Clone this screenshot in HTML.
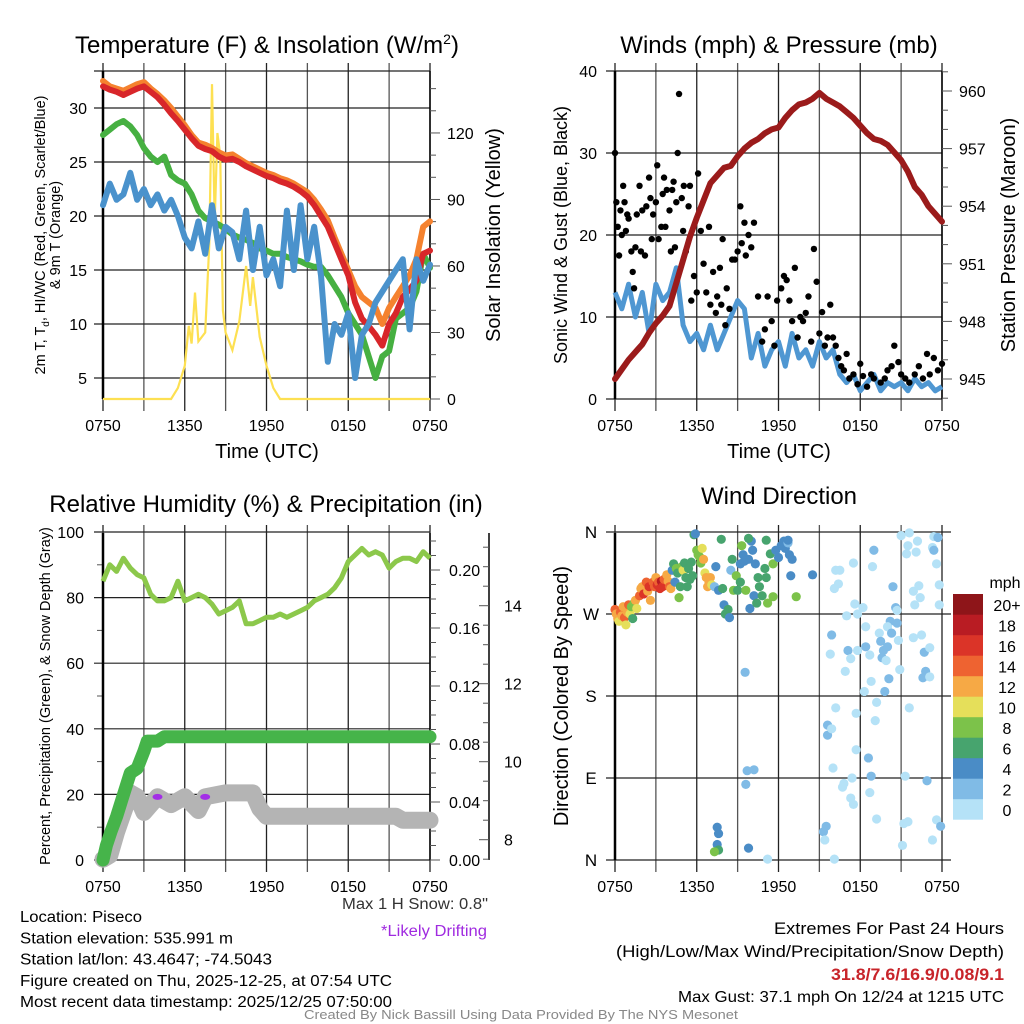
<!DOCTYPE html>
<html><head><meta charset="utf-8"><style>
html,body{margin:0;padding:0;background:#fff}
svg{display:block;font-family:"Liberation Sans",sans-serif}
</style></head><body>
<svg id="fig" width="1024" height="1024" viewBox="0 0 1024 1024" xmlns="http://www.w3.org/2000/svg">
<rect width="1024" height="1024" fill="#fff"/>
<g id="layer"></g>
</svg>
<script>
// ---------- DATA ----------
const timeLabels = ["0750","1350","1950","0150","0750"];
const halfHours = Array.from({length:49},(_,i)=>i*0.5);
const tempRed = [32,31.7,31.5,31.2,31.5,31.8,32,31.5,31,30.3,29.5,28.8,28,27.2,26.5,26.2,26,25.5,25.2,25.3,25,24.6,24.3,24,23.7,23.5,23.2,23,22.7,22.3,21.8,21,20,19,17.5,16,14.5,12,10.5,9.8,9,8,10,11,12.5,13.2,14,16.5,16.8];
const tempOrange = [32.5,32,31.8,31.6,31.9,32.2,32.4,31.8,31.3,30.7,30,29.2,28.4,27.5,26.8,26.6,26.3,25.9,25.6,25.7,25.3,24.9,24.6,24.3,24,23.8,23.5,23.3,23,22.6,22.2,21.5,20.6,19.6,18,16.5,15,13.5,12.5,12,11.5,10,11.5,12.5,13.5,14.5,16,19,19.5];
const dewGreen = [27.5,28,28.5,28.8,28.3,27.5,26.3,25.5,25,25.5,23.8,23.3,23,22,20.5,19.8,19.5,19.2,18.8,18.3,18,17.8,17.5,17,16.8,16.5,16.5,16.2,16,15.8,15.5,15.3,15.3,14.5,13.5,12.5,11,10,9,7,5,7,7.5,10.5,11,11.5,13,16.5,15.2];
const chillBlue = [21,23,21.5,22,24,21.5,22.5,21,22,20.5,21.5,20,18,17,19.5,16.5,21,17,19,18.5,16,20.5,15,19,14.5,16,13.5,20.5,15,21,16,19,14.5,6.5,10,9,11,5,9,10,12,13,14,15,16,9.5,16,14,15.5];
const solarHours = [0,5,5.5,6,6.3,6.5,6.75,7,7.5,7.8,8,8.2,8.4,8.6,8.8,9,9.5,10,10.5,10.8,11,11.5,12,12.5,13,24];
const solarValues = [0,0,5,15,33,25,48,26,30,70,142,80,120,110,40,30,22,35,60,42,55,28,15,5,0,0];
const pressure = [945,945.5,946,946.4,946.8,947.4,947.9,948.3,948.8,950,951.2,952.4,953.4,954.3,955.2,955.6,956,956.1,956.6,957,957.3,957.5,957.8,958,958.1,958.6,959,959.3,959.4,959.6,959.9,959.6,959.4,959.2,958.9,958.6,958.2,957.8,957.5,957.4,957.2,956.8,956.4,955.8,955,954.6,954,953.6,953.2];
const windSpeed = [13,11,14,10,13,8,14,12,13,16,9,7,8,6,9,6,8,10,12,11,5,8,4,6,7,4,8,5,6,4,7,5,6,3,2,3,1,2,3,1,2,1.5,2,1,2.5,1.5,2,1,1.5];
const gustHours = [0,0.1,0.2,0.3,0.4,0.5,0.6,0.7,0.8,0.9,1,1.2,1.3,1.4,1.5,1.6,1.8,1.9,2,2.2,2.3,2.5,2.6,2.7,2.8,3,3.1,3.2,3.4,3.5,3.6,3.7,3.8,4,4.1,4.2,4.3,4.4,4.5,4.6,4.7,4.9,5,5.05,5.2,5.4,5.5,5.6,5.8,6,6.1,6.3,6.5,6.7,6.9,7,7.2,7.4,7.5,7.7,7.8,7.9,8.1,8.2,8.4,8.6,8.8,9,9.2,9.3,9.5,9.6,9.8,10,10.2,10.5,10.8,11,11.2,11.5,11.7,11.9,12.2,12.4,12.6,12.8,13,13.2,13.4,13.6,13.8,14,14.2,14.4,14.6,14.8,15,15.2,15.4,15.6,15.8,16,16.2,16.4,16.6,16.8,17,17.2,17.5,17.8,18,18.2,18.5,18.8,19,19.5,19.8,20,20.3,20.5,20.8,21,21.3,21.6,22,22.3,22.6,22.9,23.1,23.4,23.7,24];
const gustValues = [30,24,21,17.5,23,20,26,24,20.5,22.5,22,18,15.5,13.5,18.5,22.5,26,18,23,17.5,23.5,27,24.5,19.5,22.5,24,28.5,19.5,21,25,27,21,25.5,23,18,25.5,26.5,18.5,24,30,37.2,24.5,20.5,26,18,23.5,26,12,15,13,27.5,20.5,16.5,13,21,11.5,15.5,10.5,12.5,16,11.5,19.5,9,13.5,11,17,17,18,23.5,19,21.5,17.5,20,18.5,21.5,12.5,7,8.5,12.5,9.5,6.5,12,13.5,15,14.5,12,9.5,16,7.5,10,9.5,10.5,12.5,7,18.3,14.3,8,10.6,6.5,7.5,11.5,7.5,6.5,5,4,3.5,5.5,2.5,3,1.8,4.3,2.8,1.5,3,2.5,2,2.5,3.5,4,6.5,4.5,3,2.5,2,3,4,2.5,5.5,3,5,3.5,4.3];
const rhValues = [85,90,88,92,89,87,86,81,79,79,80,85,79,80,81,80,78,75,76,77,79,72,72,73,74,74,75,74,75,76,77,79,80,81,83,86,91,93,95,93,94,93,89,91,92,92,91,94,92];
const precipHours = [0,0.25,0.6,1,1.5,2,2.5,3,3.25,4,4.5,24];
const precipValues = [0,0.01,0.02,0.03,0.045,0.06,0.063,0.075,0.082,0.082,0.085,0.085];
const snowHours = [0,0.5,1,1.5,2,2.5,3,4,5,6,7,7.5,9,11,11.5,12,21.5,22,24];
const snowValues = [7.5,7.6,8.2,8.7,9.2,9.1,8.7,9.1,8.9,9.1,8.75,9.1,9.2,9.2,8.8,8.6,8.6,8.5,8.5];
const driftHours = [4.0,7.5];
const driftValues = [9.15,9.15];
const dirHours = [
 0,0.1,0.2,0.3,0.4,0.5,0.6,0.7,0.8,0.9,
 1,1.1,1.2,1.3,1.4,1.5,1.6,1.8,1.9,2,
 2.1,2.3,2.4,2.5,2.6,2.8,2.9,3,3.1,3.2,
 3.3,3.4,3.5,3.6,3.8,3.9,4,4.1,4.2,4.3,
 4.4,4.5,4.6,4.7,4.8,4.9,5,5.1,5.2,5.3,
 5.4,5.5,5.6,5.7,5.8,5.9,6,6.1,6.2,6.3,
 6.4,6.5,6.6,6.7,6.8,6.9,7,7.1,7.3,7.4,
 7.6,7.8,7.9,8,8.1,8.3,8.4,8.5,8.6,8.7,
 8.9,9,9.2,9.2,9.3,9.4,9.5,9.6,9.8,10,
 10.1,10.2,10.3,10.5,10.6,10.8,11,11.1,11.2,11.4,
 11.6,11.8,12,12.2,12.4,12.5,12.7,12.8,12.9,13,
 16.2,16.5,16.1,16.4,17.5,17.6,19,18.9,15.9,15.8,
 17,17.1,17.3,16.9,17.8,18.2,18.4,17.8,18.4,18.7,
 18.8,18.3,16.2,15.6,15.6,15.9,17.7,19.2,19.1,19.4,
 19.5,19.7,19.6,19.9,20.1,19.8,20.4,20.6,20.7,20.2,
 20.7,20,20.3,20.8,20,20.9,21,21.5,22.2,21.4,
 22.1,21.9,22.3,22.4,22,21.6,22.5,21.9,22.7,23.1,
 22.8,22.6,23.1,23.4,23.7,23.3,23.4,23.6,23.8,23.8,
 21.6,21.3,22.9,21.2,21.5,21.1,23.6,23.9,23.3,18.6,
 18.8,17.7,16,17.4,16.8,16.7,17.3,17.5,18.7,19.2,
 15.5,15.3,15.4,16.1,9.55,9.7,10.2,9.6,7.5,7.6,
 7.5,7.6,7.3,9.8,11.2,14.5,9.8,11.1,11.6,13.3,
 12.7,9.9,10.4];
const dirDegs = [
 275,270,265,262,272,268,278,266,258,272,
 280,270,278,265,282,285,276,290,298,300,
 292,305,295,300,285,305,300,310,302,305,
 298,306,300,308,313,306,300,298,318,325,
 305,320,315,288,300,322,318,326,310,300,
 320,308,327,312,357,358,340,335,333,326,
 342,330,315,310,300,305,310,302,300,322,
 296,352,298,280,270,275,266,318,330,296,
 312,296,305,325,345,335,328,296,330,350,
 340,290,325,310,300,290,320,310,282,336,
 325,340,332,345,350,342,348,335,312,330,
 318,318,298,303,326,281,340,322,247,226,
 268,230,221,207,270,277,256,230,234,225,
 196,185,167,148,137,144,161,173,153,249,
 240,230,222,219,199,185,300,277,274,262,
 260,256,249,241,234,209,356,345,350,336,
 338,295,301,288,280,359,247,244,228,233,
 207,200,201,355,354,343,340,325,302,280,
 167,92,87,40,42,16,44,37,22,112,
 92,121,101,90,84,80,68,61,74,45,
 37,31,22,1,206,98,99,83,36,29,
 17,11,9,13,1,313,353,351,289,289,
 351,276,282];
const dirSpeeds = [
 15,13,12,11,14,12,13,15,10,12,
 14,11,8,6,9,13,10,15,12,13,
 16,14,12,16,12,15,14,13,17,14,
 16,18,17,15,13,12,15,13,4,6,
 5,8,6,8,7,8,10,6,6,6,
 6,6,6,6,6,4,8,8,9,8,
 10,12,10,12,12,13,12,10,3,4,
 4,6,6,4,6,6,4,2,6,8,
 8,6,6,4,8,4,4,8,4,4,
 4,4,4,6,6,6,6,6,8,6,
 8,4,4,4,4,4,2,4,4,5,
 1,1,1,1,1,1,3,1,3,1,
 1,3,1,1,1,1,1,1,3,1,
 1,1,1,3,3,1,1,1,1,1,
 3,3,3,1,3,3,3,3,1,3,
 3,1,3,1,3,1,1,1,1,1,
 1,1,1,1,1,1,1,1,3,1,
 3,3,1,1,3,1,3,1,1,1,
 1,1,2,1,1,1,1,3,1,3,
 3,1,1,1,1,1,1,1,1,1,
 3,3,1,1,2,2,2,3,4,4,
 4,6,8,4,1,4,7,7,8,8,
 5,5,7];
const speedBinColors = ["#b5e2f7","#80bbe6","#4a8cc6","#47a46e","#7cc24a","#e5df5a","#f6a945","#ee6331","#db3428","#b91c23","#8e1519"];
const speedBinLabels = ["0","2","4","6","8","10","12","14","16","18","20+"];

// ---------- HELPERS ----------
const NS="http://www.w3.org/2000/svg";
const L=document.getElementById('layer');
function mk(tag,attrs,parent){const e=document.createElementNS(NS,tag);for(const k in attrs)e.setAttribute(k,attrs[k]);(parent||L).appendChild(e);return e;}
function txt(s,x,y,size,anchor,extra){const e=mk('text',Object.assign({x:x,y:y,'font-size':size,'text-anchor':anchor||'middle',fill:'#000'},extra||{}));e.textContent=s;return e;}
function pathFrom(xs,ys,fx,fy){let d='';const n=Math.min(xs.length,ys.length);for(let i=0;i<n;i++){d+=(i?'L':'M')+fx(xs[i]).toFixed(1)+','+fy(ys[i]).toFixed(1);}return d;}

function frame(x0,x1,y0,y1,name){
  const g=mk('g',{});
  
  
  for(let i=0;i<=8;i++){
    const x=x0+(x1-x0)*i/8;
    mk('line',{x1:x,y1:y0-8,x2:x,y2:y1+12,stroke:(i%2?'#555':'#222'),'stroke-width':1.3},g);
  }
  return g;
}
function hgrid(x0,x1,y,g){mk('line',{x1:x0-9,y1:y,x2:x1,y2:y,stroke:'#222','stroke-width':1.2},g);}
function xLabels(x0,x1,y,name){
  for(let i=0;i<timeLabels.length;i++){
    const t=txt(timeLabels[i],x0+(x1-x0)*i/4,y,16);
    
    
  }
}

// ---------- PANEL 1: Temperature ----------
(function(){
  const x0=103,x1=430;
  const fx=h=>x0+h*(x1-x0)/24;
  const fy=t=>378-(t-5)*10.8;
  const fs=s=>399-s*2.217;
  const g=frame(x0,x1,71,399,'temperature');
  [5,10,15,20,25,30].forEach(v=>hgrid(x0,x1,fy(v),g));
  mk('line',{x1:x0-9,y1:71,x2:x1,y2:71,stroke:'#222','stroke-width':1.2},g);
  mk('line',{x1:x0,y1:71,x2:x0,y2:399,stroke:'#000','stroke-width':2.5},g);
  mk('line',{x1:x1,y1:71,x2:x1,y2:399,stroke:'#000','stroke-width':1.5},g);
  for(let s=0;s<=150;s+=10){const y=fs(s);if(y<71)break;mk('line',{x1:x1,y1:y,x2:x1+(s%30===0?10:6),y2:y,stroke:'#555','stroke-width':1},g);}
  for(const v of [5,10,15,20,25,30]){const t=txt(String(v),87,fy(v)+6,16,'end');}
  for(const v of [0,30,60,90,120]){const t=txt(String(v),447,fs(v)+6,16,'start');}
  const sol=mk('path',{d:pathFrom(solarHours,solarValues,fx,fs),fill:'none',stroke:'#fde052','stroke-width':2.2});
  
  
  const o=mk('path',{d:pathFrom(halfHours,tempOrange,fx,fy),fill:'none',stroke:'#f5822f','stroke-width':6,'stroke-linejoin':'round','stroke-linecap':'round'});
  
  
  const gr=mk('path',{d:pathFrom(halfHours,dewGreen,fx,fy),fill:'none',stroke:'#46b041','stroke-width':6,'stroke-linejoin':'round','stroke-linecap':'round'});
  
  
  const r=mk('path',{d:pathFrom(halfHours,tempRed,fx,fy),fill:'none',stroke:'#d8262a','stroke-width':6,'stroke-linejoin':'round','stroke-linecap':'round'});
  
  
  const b=mk('path',{d:pathFrom(halfHours,chillBlue,fx,fy),fill:'none',stroke:'#4a92cc','stroke-width':6,'stroke-linejoin':'round','stroke-linecap':'round'});
  
  
  xLabels(x0,x1,431,'temperature');
  const tt=mk('text',{x:267,y:53,'font-size':24,'text-anchor':'middle'});
  tt.innerHTML='Temperature (F) &amp; Insolation (W/m<tspan dy="-9" font-size="14">2</tspan><tspan dy="9">)</tspan>';
  
  
  const xl=txt('Time (UTC)',267,458,20);
  
  
  const yl=mk('text',{transform:'translate(45,235) rotate(-90)','font-size':14.5,'text-anchor':'middle'});
  yl.innerHTML='2m T, T<tspan font-size="10" dy="4">d</tspan><tspan dy="-4">, HI/WC (Red, Green, Scarlet/Blue)</tspan>';
  
  
  const yl2=txt('& 9m T (Orange)',0,0,14.5,'middle',{transform:'translate(60,235) rotate(-90)'});
  
  
  const yr=txt('Solar Insolation (Yellow)',0,0,20,'middle',{transform:'translate(500,235) rotate(-90)'});
  
  
})();

// ---------- PANEL 2: Winds ----------
(function(){
  const x0=615,x1=942;
  const fx=h=>x0+h*(x1-x0)/24;
  const fy=v=>399-v*8.2;
  const fp=p=>379-(p-945)*19.2;
  const g=frame(x0,x1,71,399,'winds');
  [0,10,20,30,40].forEach(v=>hgrid(x0,x1,fy(v),g));
  mk('line',{x1:x0,y1:71,x2:x0,y2:399,stroke:'#000','stroke-width':2.5},g);
  mk('line',{x1:x1,y1:71,x2:x1,y2:399,stroke:'#000','stroke-width':1.5},g);
  for(let p=944;p<=961;p++){const y=fp(p);if(y<71||y>399)continue;mk('line',{x1:x1,y1:y,x2:x1+((p-945)%3===0?10:6),y2:y,stroke:'#555','stroke-width':1},g);}
  for(const v of [0,10,20,30,40]){const t=txt(String(v),597,fy(v)+6,16,'end');}
  for(const v of [945,948,951,954,957,960]){const t=txt(String(v),959,fp(v)+6,16,'start');}
  const ws=mk('path',{d:pathFrom(halfHours,windSpeed,fx,fy),fill:'none',stroke:'#4f97d2','stroke-width':5,'stroke-linejoin':'round'});
  
  
  for(let i=0;i<gustHours.length;i++){
    const c=mk('circle',{cx:fx(gustHours[i]),cy:fy(gustValues[i]),r:3.2,fill:'#000'});
    
    
  }
  const pr=mk('path',{d:pathFrom(halfHours,pressure,fx,fp),fill:'none',stroke:'#9b1b1b','stroke-width':6,'stroke-linejoin':'round','stroke-linecap':'round'});
  
  
  xLabels(x0,x1,431,'winds');
  const tt=txt('Winds (mph) & Pressure (mb)',779,53,24);
  
  
  const xl=txt('Time (UTC)',779,458,20);
  
  
  const yl=txt('Sonic Wind & Gust (Blue, Black)',0,0,18,'middle',{transform:'translate(567,235) rotate(-90)'});
  
  
  const yr=txt('Station Pressure (Maroon)',0,0,20,'middle',{transform:'translate(1015,235) rotate(-90)'});
  
  
})();

// ---------- PANEL 3: RH & Precip ----------
(function(){
  const x0=103,x1=430;
  const fx=h=>x0+h*(x1-x0)/24;
  const fy=v=>860-v*3.28;
  const fpr=p=>860-p*1450;
  const fsn=s=>839.7-(s-8)*39;
  const g=frame(x0,x1,533,860,'humidity');
  [0,20,40,60,80,100].forEach(v=>hgrid(x0,x1,fy(v),g));
  for(let v=10;v<100;v+=20)mk('line',{x1:x0-6,y1:fy(v),x2:x0,y2:fy(v),stroke:'#555'},g);
  mk('line',{x1:x0,y1:533,x2:x0,y2:860,stroke:'#000','stroke-width':2.5},g);
  mk('line',{x1:x1,y1:533,x2:x1,y2:860,stroke:'#000','stroke-width':1.5},g);
  for(let k=0;k<=22;k++){const p=k*0.01;const y=fpr(p);if(y<533)break;mk('line',{x1:x1,y1:y,x2:x1+(k%4===0?10:6),y2:y,stroke:'#555'},g);}
  mk('line',{x1:489,y1:533,x2:489,y2:860,stroke:'#000','stroke-width':1.5},g);
  for(let s=7.5;s<=15.9;s+=0.5){const y=fsn(s);if(y<533||y>860)continue;mk('line',{x1:489,y1:y,x2:489-(Math.abs(s-Math.round(s/2)*2)<0.01?10:6),y2:y,stroke:'#555'},g);}
  for(const v of [0,20,40,60,80,100]){const t=txt(String(v),84,fy(v)+6,16,'end');}
  for(const v of [0,0.04,0.08,0.12,0.16,0.20]){const t=txt(v.toFixed(2),449,fpr(v)+6,16,'start');}
  for(const v of [8,10,12,14]){const t=txt(String(v),504,fsn(v)+6,16,'start');}
  const sn=mk('path',{d:pathFrom(snowHours,snowValues,fx,fsn),fill:'none',stroke:'#b4b4b4','stroke-width':17,'stroke-linejoin':'round','stroke-linecap':'round'});
  
  
  for(let i=0;i<driftHours.length;i++){
    const c=mk('ellipse',{cx:fx(driftHours[i]),cy:fsn(driftValues[i])+2,rx:5,ry:3,fill:'#a32ee6'});
    
    
  }
  const pc=mk('path',{d:pathFrom(precipHours,precipValues,fx,fpr),fill:'none',stroke:'#46b44a','stroke-width':13,'stroke-linejoin':'round','stroke-linecap':'round'});
  
  
  const rh=mk('path',{d:pathFrom(halfHours,rhValues,fx,fy),fill:'none',stroke:'#8cc84b','stroke-width':5,'stroke-linejoin':'round'});
  
  
  xLabels(x0,x1,892,'humidity');
  const tt=txt('Relative Humidity (%) & Precipitation (in)',266,512,24);
  
  
  const yl=txt('Percent, Precipitation (Green), & Snow Depth (Gray)',0,0,14.5,'middle',{transform:'translate(50,696) rotate(-90)'});
  
  
})();

// ---------- PANEL 4: Wind Direction ----------
(function(){
  const x0=615,x1=942;
  const fx=h=>x0+h*(x1-x0)/24;
  const fy=d=>860-d*328/360;
  const g=frame(x0,x1,533,860,'wind-direction');
  [0,90,180,270,360].forEach(v=>{mk('line',{x1:x0-9,y1:fy(v),x2:x1+9,y2:fy(v),stroke:'#222','stroke-width':1.2},g);});
  mk('line',{x1:x0,y1:533,x2:x0,y2:860,stroke:'#000','stroke-width':2.5},g);
  const dl=['N','E','S','W','N'];
  [0,90,180,270,360].forEach((v,i)=>{const t=txt(dl[i],591,fy(v)+6,17,'middle');});
  const n=Math.min(dirHours.length,dirDegs.length,dirSpeeds.length);
  for(let i=0;i<n;i++){
    const bin=Math.min(10,Math.floor(dirSpeeds[i]/2));
    const c=mk('circle',{cx:fx(dirHours[i]),cy:fy(dirDegs[i]),r:4.6,fill:speedBinColors[bin]});
    
    
  }
  xLabels(x0,x1,892,'wind-direction');
  const tt=txt('Wind Direction',779,504,24);
  
  
  const yl=txt('Direction (Colored By Speed)',0,0,20,'middle',{transform:'translate(568,696) rotate(-90)'});
  
  
  const cb=mk('g',{});
  
  
  for(let i=0;i<11;i++){
    const yTop=594+(10-i)*20.5;
    mk('rect',{x:953,y:yTop,width:30,height:20.7,fill:speedBinColors[i]},cb);
    const t=txt(speedBinLabels[i],1007,yTop+17,16,'middle');
    
    
  }
  const m=txt('mph',1005,588,16,'middle');
  
  
})();

// ---------- FOOTER TEXT ----------
(function(){
  const lines=['Location: Piseco','Station elevation: 535.991 m','Station lat/lon: 43.4647; -74.5043','Figure created on Thu, 2025-12-25, at 07:54 UTC','Most recent data timestamp: 2025/12/25 07:50:00'];
  const lens=[122,213,252,372,372];
  lines.forEach((s,i)=>{const t=txt(s,20,922+i*21.3,15.5,'start',{textLength:lens[i],lengthAdjust:'spacingAndGlyphs'});});
  const a=txt('Max 1 H Snow: 0.8"',488,909,15.5,'end',{fill:'#333',textLength:146,lengthAdjust:'spacingAndGlyphs'});
  
  
  const b=txt('*Likely Drifting',487,936,15.5,'end',{fill:'#a02be0',textLength:106,lengthAdjust:'spacingAndGlyphs'});
  
  
  const r1=txt('Extremes For Past 24 Hours',1004,934,16.5,'end',{textLength:230,lengthAdjust:'spacingAndGlyphs'});
  
  
  const r2=txt('(High/Low/Max Wind/Precipitation/Snow Depth)',1004,957,16.5,'end',{textLength:388,lengthAdjust:'spacingAndGlyphs'});
  
  
  const r3=txt('31.8/7.6/16.9/0.08/9.1',1004,980,16.5,'end',{fill:'#c8242a','font-weight':'bold',textLength:173,lengthAdjust:'spacingAndGlyphs'});
  
  
  const r4=txt('Max Gust: 37.1 mph On 12/24 at 1215 UTC',1004,1002,16,'end',{textLength:326,lengthAdjust:'spacingAndGlyphs'});
  
  
  const c=txt('Created By Nick Bassill Using Data Provided By The NYS Mesonet',521,1019,12.5,'middle',{fill:'#888',textLength:434,lengthAdjust:'spacingAndGlyphs'});
  
  
})();
</script>
</body></html>
